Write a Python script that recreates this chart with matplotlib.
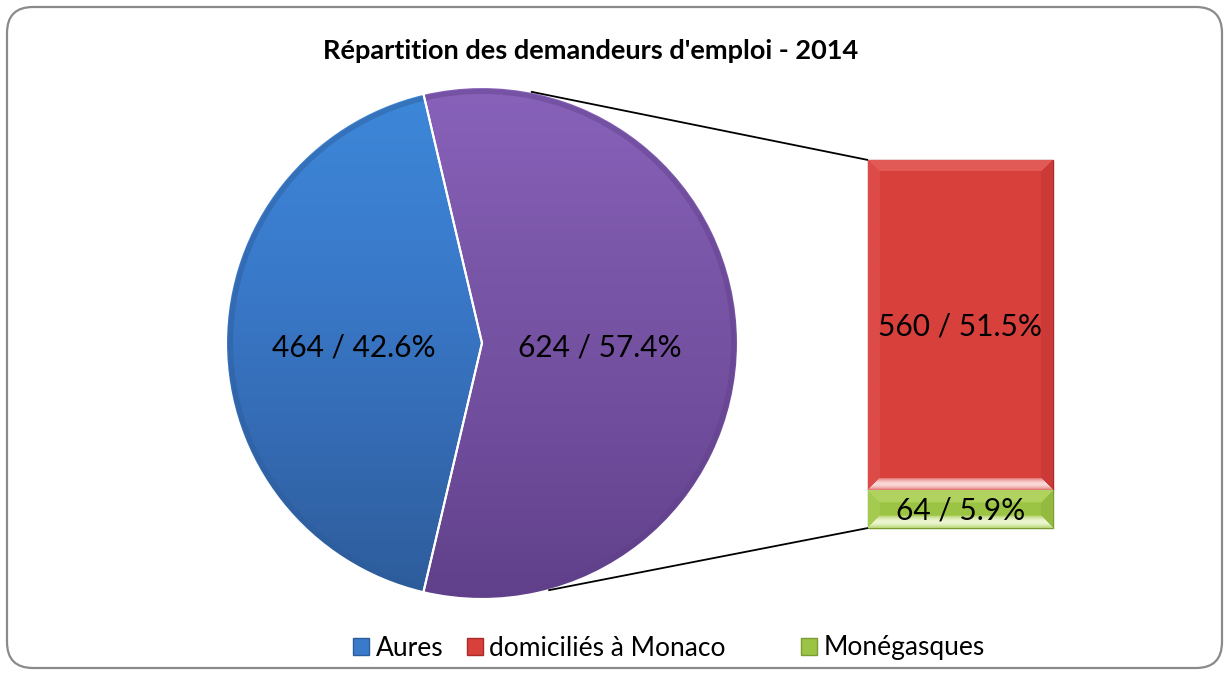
import numpy as np
import matplotlib
matplotlib.use("Agg")
import matplotlib.pyplot as plt
from matplotlib.patches import FancyBboxPatch, Patch, Wedge
from matplotlib.colors import to_rgb

plt.rcParams['font.family'] = ['Lato', 'DejaVu Sans']

# ---- data ----
title = "Répartition des demandeurs d'emploi - 2014"
pie_labels = ["Aures", "Autres"]
pie_values = [464, 624]
bar_labels = ["domiciliés à Monaco", "Monégasques"]
bar_values = [560, 64]
total = sum(pie_values)

blue = ["#3d88d9", "#3a7acb", "#346aB2", "#2d5c9a"]
purple = ["#8862ba", "#7a56a8", "#6f4c9b", "#60408a"]
red_c = ("#d8403c", "#ec7a76", "#a82b29", "#fbe0df")
green_c = ("#9cc444", "#c8e67e", "#7a9c30", "#f0f8d8")

W, H = 1229, 675
fig = plt.figure(figsize=(W / 100, H / 100), dpi=100)
ax = fig.add_axes([0, 0, 1, 1])


def grad_img(stops, pos, n=256):
    cols = np.array([to_rgb(c) for c in stops])
    t = np.linspace(0, 1, n)
    return np.stack([np.interp(t, pos, cols[:, k]) for k in range(3)], axis=-1)[:, None, :]


# ---- pie ----
cx, cy, R = 482, 332, 256
blue_frac = pie_values[0] / total
start = 180 - blue_frac * 360 / 2
wedges, _ = ax.pie(pie_values, startangle=start, counterclock=True,
                   center=(cx, cy), radius=R, explode=[0, 0.025],
                   colors=[blue[1], purple[1]],
                   wedgeprops=dict(edgecolor="white", linewidth=1.5))

for w, st in zip(wedges, [blue, purple]):
    wx, wy = w.center
    img = grad_img(st, [0, 0.35, 0.7, 1.0])
    im = ax.imshow(img, extent=(wx - w.r, wx + w.r, wy - w.r, wy + w.r),
                   origin="upper", aspect="auto", zorder=1.5,
                   interpolation="bilinear")
    im.set_clip_path(w)
    w.set_zorder(1)

for w, st in zip(wedges, [blue, purple]):
    # soft darker rim
    rim = Wedge(w.center, w.r - 2, w.theta1, w.theta2, width=5,
                facecolor=st[3], edgecolor="none", alpha=0.45, zorder=1.8)
    ax.add_patch(rim)
    ow = Wedge(w.center, w.r, w.theta1, w.theta2, facecolor="none",
               edgecolor="white", linewidth=1.5, zorder=2)
    ax.add_patch(ow)

# pie labels
ax.text(cx - 0.5 * R, cy - 4, f"{pie_values[0]} / {100 * pie_values[0] / total:.1f}%",
        ha="center", va="center", fontsize=21.5, color="black", zorder=5)
pw = wedges[1]
ax.text(pw.center[0] + 0.46 * R, cy - 4, f"{pie_values[1]} / {100 * pie_values[1] / total:.1f}%",
        ha="center", va="center", fontsize=21.5, color="black", zorder=5)

# ---- stacked bar ----
bx, bw = 960.5, 185
by0 = 147
scale = 368 / sum(bar_values)
bottoms = [by0 + bar_values[1] * scale, by0]
heights = [v * scale for v in bar_values]
bars = []
for lab, b, h, c in zip(bar_labels, bottoms, heights, [red_c, green_c]):
    r = ax.bar(bx, h, width=bw, bottom=b, color=c[0], edgecolor=c[2],
               linewidth=1.0, zorder=2)[0]
    bars.append(r)

    x0, x1 = bx - bw / 2, bx + bw / 2
    y0, y1 = b, b + h
    nx, ny = int(bw), max(int(h), 4)
    base = np.array(to_rgb(c[0]))
    light = np.array(to_rgb(c[1]))
    dark = np.array(to_rgb(c[2]))
    shine = np.array(to_rgb(c[3]))
    img = np.tile(base, (ny, nx, 1))
    bev = min(12, h / 3)
    yy, xx = np.mgrid[0:ny, 0:nx]
    dtop = yy + 0.5
    dbot = ny - yy - 0.5
    dl = xx + 0.5
    dr = nx - xx - 0.5
    dmin = np.minimum(np.minimum(dtop, dbot), np.minimum(dl, dr))
    m_top = (dtop == dmin) & (dtop < bev)
    m_bot = (dbot == dmin) & (dbot < bev) & ~m_top
    m_l = (dl == dmin) & (dl < bev) & ~m_top & ~m_bot
    m_r = (dr == dmin) & (dr < bev) & ~m_top & ~m_bot & ~m_l
    img[m_top] = 0.55 * base + 0.45 * light
    img[m_l] = 0.8 * base + 0.2 * light
    img[m_r] = 0.75 * base + 0.25 * dark
    fb = np.clip(dbot / bev, 0, 1)
    sh = (0.3 + 0.65 * np.sin(np.pi * fb))[..., None]
    img[m_bot] = ((1 - sh) * base + sh * shine)[m_bot]
    im = ax.imshow(img, extent=(x0, x1, y0, y1), origin="upper",
                   aspect="auto", zorder=2.5, interpolation="bilinear")
    im.set_clip_path(r)

for r, v in zip(bars, bar_values):
    ax.text(r.get_x() + r.get_width() / 2, r.get_y() + r.get_height() / 2 - 1,
            f"{v} / {100 * v / total:.1f}%", ha="center", va="center",
            fontsize=21.5, color="black", zorder=5)

# ---- connector lines ----
pcx, pcy = pw.center
a_top, a_bot = np.deg2rad(79), np.deg2rad(-75)
top_bar = bars[0]
bot_bar = bars[1]
ax.plot([pcx + R * np.cos(a_top), top_bar.get_x()],
        [pcy + R * np.sin(a_top), top_bar.get_y() + top_bar.get_height()],
        color="black", lw=1.3, zorder=3, solid_capstyle="butt")
ax.plot([pcx + R * np.cos(a_bot), bot_bar.get_x()],
        [pcy + R * np.sin(a_bot), bot_bar.get_y()],
        color="black", lw=1.3, zorder=3, solid_capstyle="butt")

# ---- title ----
ax.text(591, H - 51, title, ha="center", va="center", fontsize=19.5,
        fontweight="bold", color="black")

# ---- legend ----
handles = [Patch(facecolor=blue[1], edgecolor=blue[3]),
           Patch(facecolor=red_c[0], edgecolor=red_c[2]),
           Patch(facecolor=green_c[0], edgecolor=green_c[2])]
names = [pie_labels[0]] + bar_labels
xpos = [353, 467, 801]
legs = []
for hnd, nm, xp in zip(handles, names, xpos):
    lg = ax.legend([hnd], [nm], loc="center left",
                   bbox_to_anchor=(xp / W, 1 - 648 / H), frameon=False,
                   fontsize=19, handlelength=0.6, handleheight=0.6,
                   handletextpad=0.25, borderpad=0, borderaxespad=0)
    legs.append(lg)
for lg in legs[:-1]:
    ax.add_artist(lg)

# ---- frame ----
border = FancyBboxPatch((7, 7), W - 14, H - 14,
                        boxstyle="round,pad=0,rounding_size=26",
                        facecolor="none", edgecolor="#8a8a8a", linewidth=1.6,
                        zorder=10)
ax.add_patch(border)

ax.set_xlim(0, W)
ax.set_ylim(0, H)
ax.set_aspect("auto")
ax.axis("off")

fig.savefig("out.png", dpi=100)
